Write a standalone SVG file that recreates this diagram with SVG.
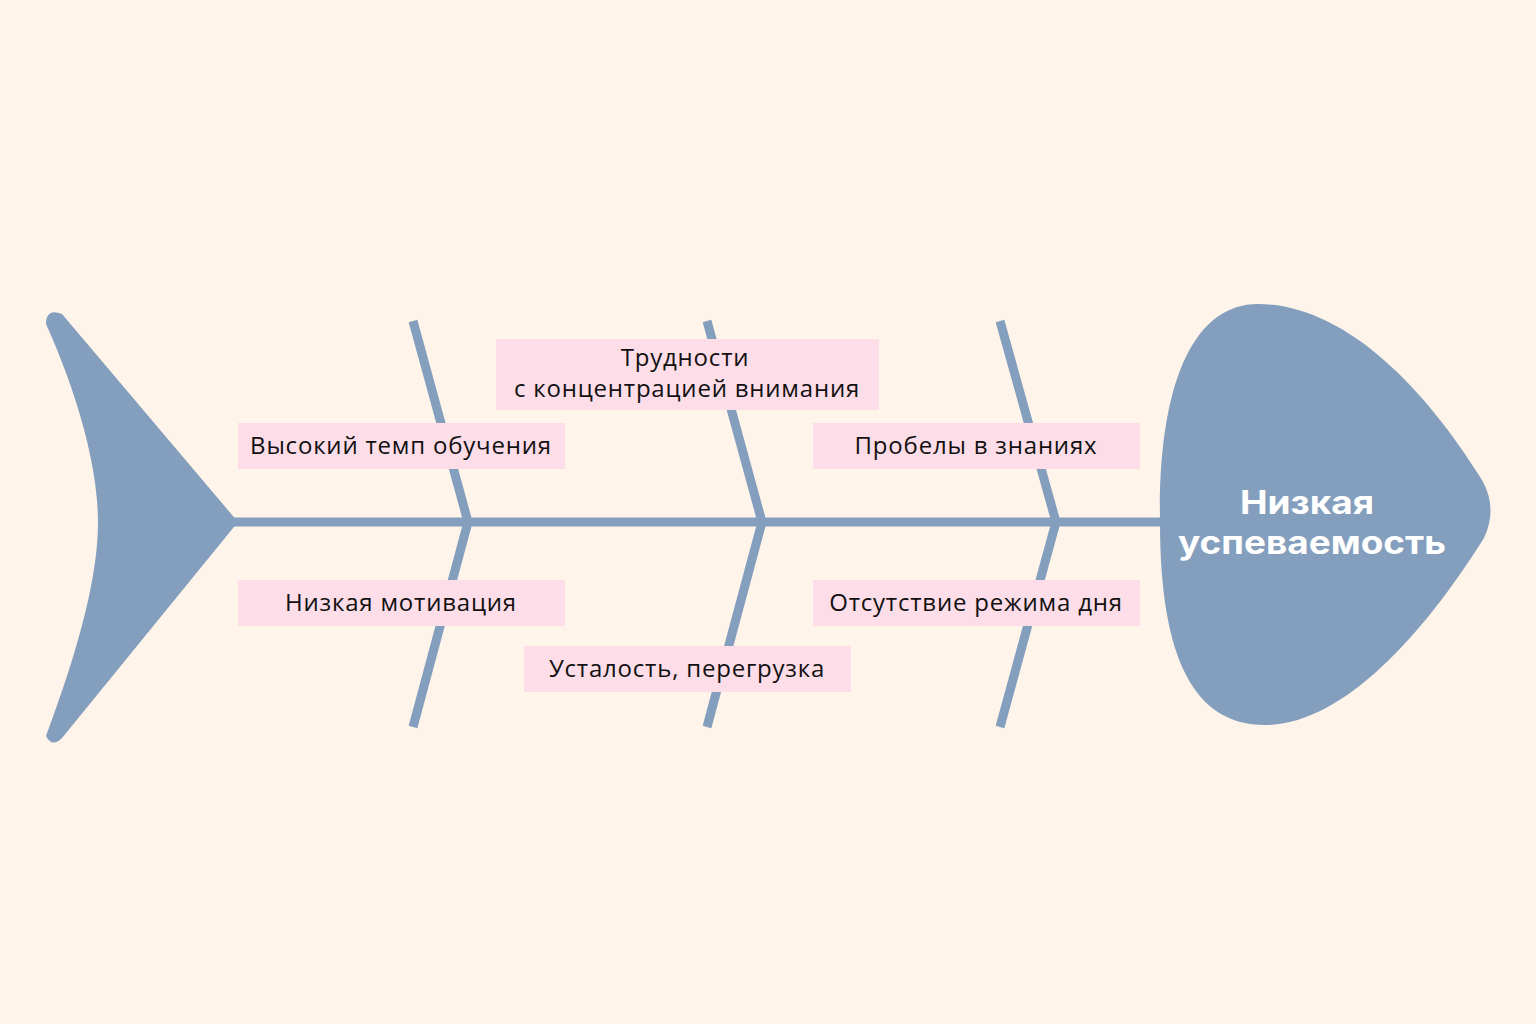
<svg xmlns="http://www.w3.org/2000/svg" width="1536" height="1024" viewBox="0 0 1536 1024">
<style>
.bg{fill:#FEF4EA}
.fish{fill:#849EBD}
.bone{stroke:#849EBD;stroke-width:9;fill:none;stroke-linejoin:round}
.box{fill:#FDDDE8}
.lbl{font-family:"Open Sans","Noto Sans",sans-serif;font-size:24px;letter-spacing:0.8px;fill:#111;text-anchor:middle}
.head{font-family:Inter,"Open Sans",sans-serif;font-size:32px;font-weight:700;fill:#fff;text-anchor:middle}
</style>
<rect class="bg" width="1536" height="1024"/>
<g id="connectors">
<line class="bone" x1="230" y1="522" x2="1165" y2="522" stroke-width="10"/>
<polyline class="bone" points="413,321 468,522 413,727"/>
<polyline class="bone" points="707,321 762,522 707,727"/>
<polyline class="bone" points="1000,321 1056,522 1000,727"/>
</g>
<g id="tail">
<path class="fish" d="M62,314 L238,522 L62,738 Q52,748 46,736 C80,645 98,575 98,522 C98,470 80,400 46,324 Q46,308 62,314 Z"/>
</g>
<g id="head">
<path class="fish" d="M1160,522 C1158,380 1195,304 1258,304 C1340,304 1420,380 1482,480 Q1498,508 1484,538 C1420,640 1340,725 1265,725 C1195,725 1160,660 1160,522 Z"/>
<text class="head" x="1307" y="514" textLength="134" lengthAdjust="spacingAndGlyphs">Низкая</text>
<text class="head" x="1312" y="554" textLength="268" lengthAdjust="spacingAndGlyphs">успеваемость</text>
</g>
<g id="n1"><rect class="box" x="238" y="423" width="327" height="46"/><text class="lbl" x="401" y="454">Высокий темп обучения</text></g>
<g id="n2"><rect class="box" x="238" y="580" width="327" height="46"/><text class="lbl" x="401" y="611">Низкая мотивация</text></g>
<g id="n3"><rect class="box" x="496" y="339" width="383" height="71"/><text class="lbl" x="685" y="366">Трудности</text><text class="lbl" x="687" y="397">с концентрацией внимания</text></g>
<g id="n4"><rect class="box" x="524" y="646" width="327" height="46"/><text class="lbl" x="687" y="677">Усталость, перегрузка</text></g>
<g id="n5"><rect class="box" x="813" y="423" width="327" height="46"/><text class="lbl" x="976" y="454">Пробелы в знаниях</text></g>
<g id="n6"><rect class="box" x="813" y="580" width="327" height="46"/><text class="lbl" x="976" y="611">Отсутствие режима дня</text></g>
</svg>
